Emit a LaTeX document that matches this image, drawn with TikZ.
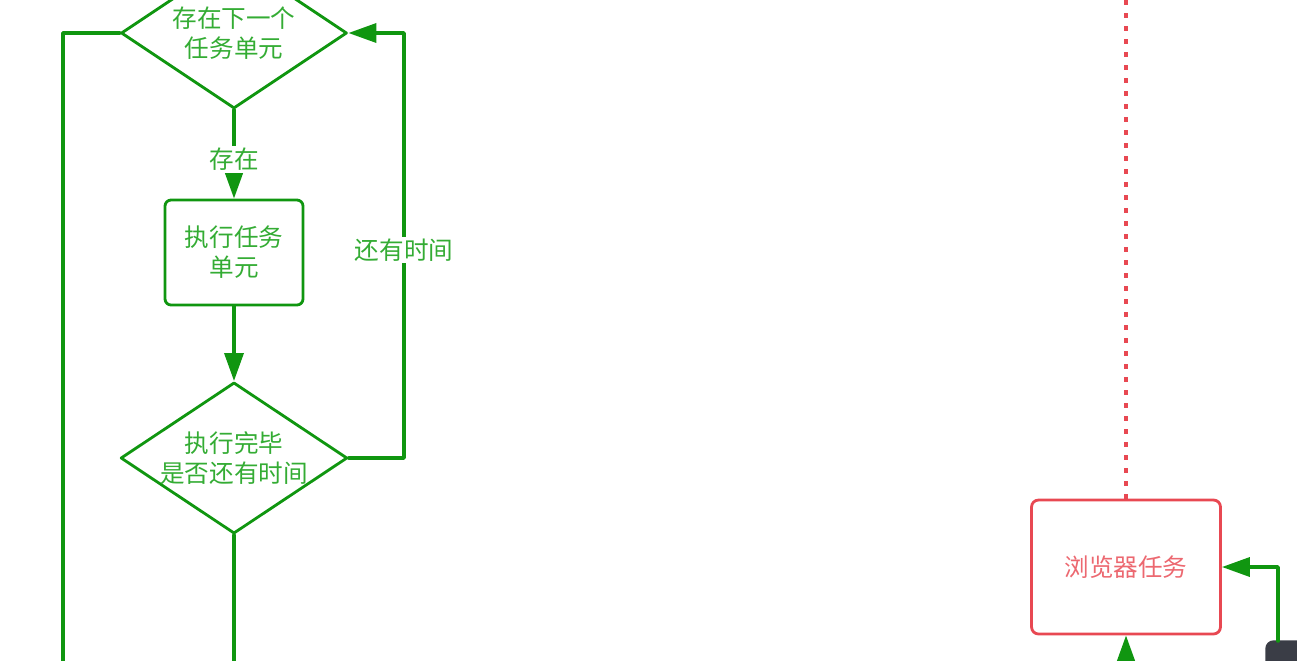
\documentclass[tikz,border=0pt]{standalone}
\usepackage{fontspec}
\newfontfamily\cjk{Noto Sans CJK SC}
\usetikzlibrary{shapes.geometric,arrows.meta}
\definecolor{flowgreen}{RGB}{16,150,16}
\definecolor{flowtext}{RGB}{52,172,52}
\definecolor{taskred}{RGB}{232,72,82}
\definecolor{tasktext}{RGB}{236,104,112}
\definecolor{hostgray}{RGB}{58,61,70}

\begin{document}
\begin{tikzpicture}[x=0.02cm,y=-0.02cm,line cap=round,line join=round,
    font=\cjk\fontsize{14}{17}\selectfont,
    >={Triangle[length=0.56cm,width=0.38cm]},
    decision/.style={diamond,draw=flowgreen,line width=1.6pt,text=flowtext,align=center,
      minimum width=4.52cm,minimum height=3.02cm,inner sep=0pt,shape aspect=1.5},
    process/.style={rectangle,rounded corners=0.12cm,draw=flowgreen,line width=1.6pt,
      text=flowtext,align=center,minimum width=2.76cm,minimum height=2.1cm},
    browsertask/.style={rectangle,rounded corners=0.14cm,draw=taskred,line width=1.6pt,
      text=tasktext,minimum width=3.78cm,minimum height=2.68cm},
    link/.style={flowgreen,line width=2pt},
    tag/.style={fill=white,text=flowtext,inner sep=1pt}]
  \useasboundingbox (0,0) rectangle (1297,660);
  \clip (0,0) rectangle (1297,660);

  % task loop
  \node[decision] (next) at (234,33) {存在下一个\\任务单元};
  \node[process] (run) at (234,252.5) {执行任务\\单元};
  \node[decision] (check) at (234,458) {执行完毕\\是否还有时间};

  \coordinate (back) at (404,250);
  \coordinate (leftrail) at (63,720);

  \draw[link,->] (next.south) -- node[tag,yshift=-3pt] {存在} (run.north);
  \draw[link,->] (run.south) -- (check.north);
  \draw[link,->] (check.east) -- (check.east -| back) -- (next.east -| back) -- (next.east);
  \node[tag] (more) at (back) {还有时间};
  \draw[link] (next.west) -- (next.west -| leftrail) -- (leftrail);
  \draw[link] (check.south) -- (check.south |- leftrail);

  % browser side
  \node[browsertask] (browser) at (1126,567) {浏览器任务};
  \coordinate (skytop) at (1126,-10);
  \draw[taskred,line width=1.8pt,line cap=butt,dash pattern=on 0.1cm off 0.16cm]
    (browser.north) -- (skytop);
  \node[fill=hostgray,rounded corners=0.16cm,minimum width=2cm,minimum height=1.5cm,
    anchor=north west,inner sep=0pt] (host) at (1265,640) {};
  \coordinate (hostout) at (1278,641);
  \coordinate (below) at (1126,720);
  \draw[link,->] (hostout) |- (browser.east);
  \draw[link,->] (below) -- (browser.south);
\end{tikzpicture}
\end{document}
